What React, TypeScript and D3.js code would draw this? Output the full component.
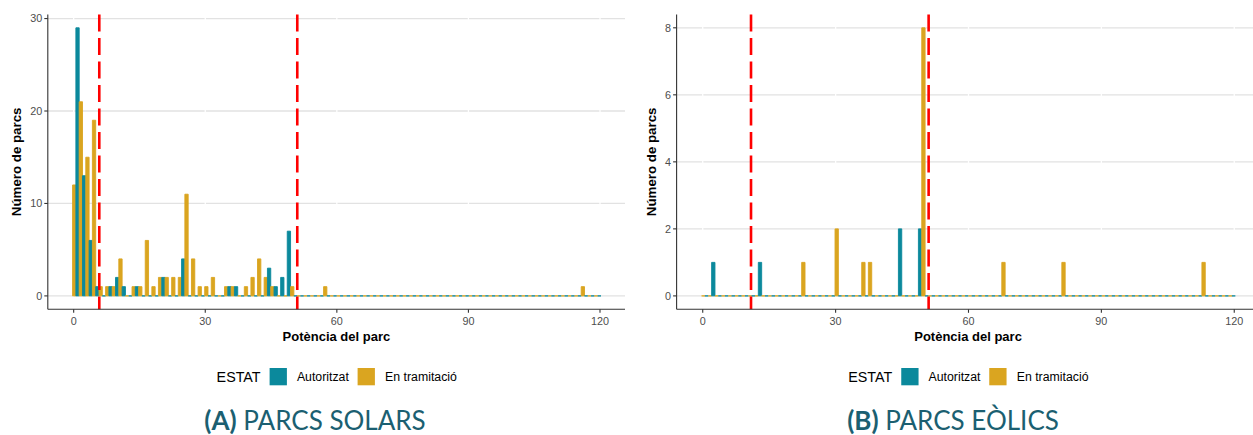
import React from "react";
import * as d3 from "d3";

// ---- data (bin index -> count), histogram of 80 bins, 1.506 MW each ----
const BIN_START = -0.25;
const BIN_WIDTH = 1.506;
const N_BINS = 80;

const solarAutoritzat: [number, number][] = [
  [0, 29], [1, 13], [2, 6], [3, 1], [5, 1], [6, 2], [7, 1], [9, 1], [13, 2],
  [16, 4], [23, 1], [24, 1], [29, 3], [30, 1], [31, 2], [32, 7],
];
const solarTramitacio: [number, number][] = [
  [0, 12], [1, 21], [2, 15], [3, 19], [4, 1], [5, 1], [6, 1], [7, 4], [9, 1],
  [10, 1], [11, 6], [12, 1], [13, 2], [14, 2], [15, 2], [16, 2], [17, 11],
  [18, 4], [19, 1], [20, 1], [21, 2], [23, 1], [24, 1], [26, 1], [27, 2],
  [28, 4], [29, 2], [30, 1], [33, 1], [38, 1], [77, 1],
];
const eolicAutoritzat: [number, number][] = [[1, 1], [8, 1], [29, 2], [32, 2]];
const eolicTramitacio: [number, number][] = [
  [15, 1], [20, 2], [24, 1], [25, 1], [33, 8], [45, 1], [54, 1], [75, 1],
];

const solarLimits = [5.84, 50.98];
const eolicLimits = [10.9, 51.0];

const xTicks = [0, 30, 60, 90, 120];
const solarYTicks = [0, 10, 20, 30];
const eolicYTicks = [0, 2, 4, 6, 8];

const categories = ["Autoritzat", "En tramitació"];
const colors = ["#0B899C", "#DAA520"];

const AXIS_FONT = "'Liberation Sans', Arial, Helvetica, sans-serif";

type PanelProps = {
  x0: number;
  x1: number;
  yDomain: [number, number];
  yTicks: number[];
  autoritzat: [number, number][];
  tramitacio: [number, number][];
  limits: number[];
  ylabX: number;
  titleBold: string;
  titleRest: string;
  titleX: number;
};

function Panel(p: PanelProps) {
  const top = 14.4;
  const bottom = 309.3;
  const x = d3.scaleLinear().domain([-5.9, 125.7]).range([p.x0, p.x1]);
  const y = d3.scaleLinear().domain(p.yDomain).range([bottom, top]);
  const aMap = new Map(p.autoritzat);
  const tMap = new Map(p.tramitacio);
  const bins = d3.range(N_BINS);
  const bar = (xa: number, xb: number, v: number) =>
    `M${xa},${y(0)}H${xb}V${y(v)}H${xa}Z`;
  const cx = (p.x0 + p.x1) / 2;
  const cy = (top + bottom) / 2;
  const legStart = cx - 119.8;
  return (
    <g>
      {/* horizontal grid */}
      {p.yTicks.map((t) => (
        <line key={"g" + t} x1={p.x0} x2={p.x1} y1={y(t)} y2={y(t)} stroke="#e2e2e2" strokeWidth={1.3} />
      ))}
      {/* white vertical grid */}
      {xTicks.map((t) => (
        <line key={"v" + t} x1={x(t)} x2={x(t)} y1={top} y2={bottom} stroke="#ffffff" strokeWidth={1.3} />
      ))}
      {/* bars */}
      {bins.map((i) => {
        const e0 = BIN_START + i * BIN_WIDTH;
        const xa = x(e0);
        const xm = x(e0 + BIN_WIDTH / 2);
        const xb = x(e0 + BIN_WIDTH);
        return (
          <g key={"b" + i}>
            <path d={bar(xa, xm, tMap.get(i) || 0)} fill={colors[1]} stroke={colors[1]} strokeWidth={0.9} />
            <path d={bar(xm, xb, aMap.get(i) || 0)} fill={colors[0]} stroke={colors[0]} strokeWidth={0.9} />
          </g>
        );
      })}
      {/* red limits */}
      {p.limits.map((l, i) => (
        <line key={"r" + i} x1={x(l)} x2={x(l)} y1={top} y2={bottom} stroke="#FF0000" strokeWidth={2.6} strokeDasharray="17 6.5" />
      ))}
      {/* axes */}
      <line x1={p.x0} x2={p.x1} y1={bottom} y2={bottom} stroke="#333" strokeWidth={1.1} />
      <line x1={p.x0} x2={p.x0} y1={top} y2={bottom} stroke="#333" strokeWidth={1.1} />
      {xTicks.map((t) => (
        <g key={"xt" + t}>
          <line x1={x(t)} x2={x(t)} y1={bottom} y2={bottom + 3.5} stroke="#333" strokeWidth={1.1} />
          <text x={x(t)} y={325} textAnchor="middle" fontSize={10.8} fill="#4d4d4d" fontFamily={AXIS_FONT}>{t}</text>
        </g>
      ))}
      {p.yTicks.map((t) => (
        <g key={"yt" + t}>
          <line x1={p.x0 - 3.5} x2={p.x0} y1={y(t)} y2={y(t)} stroke="#333" strokeWidth={1.1} />
          <text x={p.x0 - 5.5} y={y(t)} dy="0.35em" textAnchor="end" fontSize={10.8} fill="#4d4d4d" fontFamily={AXIS_FONT}>{t}</text>
        </g>
      ))}
      <text x={cx} y={341} textAnchor="middle" fontSize={13} fontWeight="bold" fontFamily={AXIS_FONT} fill="#000">Potència del parc</text>
      <text transform={`translate(${p.ylabX},${cy}) rotate(-90)`} textAnchor="middle" fontSize={13.3} fontWeight="bold" fontFamily={AXIS_FONT} fill="#000">Número de parcs</text>
      {/* legend */}
      <text x={legStart} y={382} fontSize={14.3} fontFamily={AXIS_FONT} fill="#000">ESTAT</text>
      <rect x={legStart + 53} y={368} width={17.3} height={17.3} fill={colors[0]} />
      <text x={legStart + 80.3} y={381} fontSize={12.3} fontFamily={AXIS_FONT} fill="#000">{categories[0]}</text>
      <rect x={legStart + 141} y={368} width={17.3} height={17.3} fill={colors[1]} />
      <text x={legStart + 168.5} y={381} fontSize={12.3} fontFamily={AXIS_FONT} fill="#000">{categories[1]}</text>
      {/* subfigure title */}
      <text x={p.titleX} y={429.5} textAnchor="middle" fontSize={26} fontFamily="Lato, 'Open Sans', sans-serif" fill="#1b5f71">
        <tspan fontWeight="bold">{p.titleBold}</tspan>
        <tspan> {p.titleRest}</tspan>
      </text>
    </g>
  );
}

export default function App() {
  return (
    <svg width={1253} height={435} style={{ position: "absolute", left: 0, top: 0, background: "#fff" }}>
      <rect x={0} y={0} width={1253} height={435} fill="#fff" />
      <Panel
        x0={47.8}
        x1={625}
        yDomain={[-1.45, 30.45]}
        yTicks={solarYTicks}
        autoritzat={solarAutoritzat}
        tramitacio={solarTramitacio}
        limits={solarLimits}
        ylabX={21}
        titleBold="(A)"
        titleRest="PARCS SOLARS"
        titleX={315}
      />
      <Panel
        x0={676.6}
        x1={1259.5}
        yDomain={[-0.4, 8.4]}
        yTicks={eolicYTicks}
        autoritzat={eolicAutoritzat}
        tramitacio={eolicTramitacio}
        limits={eolicLimits}
        ylabX={656}
        titleBold="(B)"
        titleRest="PARCS EÒLICS"
        titleX={953}
      />
    </svg>
  );
}
